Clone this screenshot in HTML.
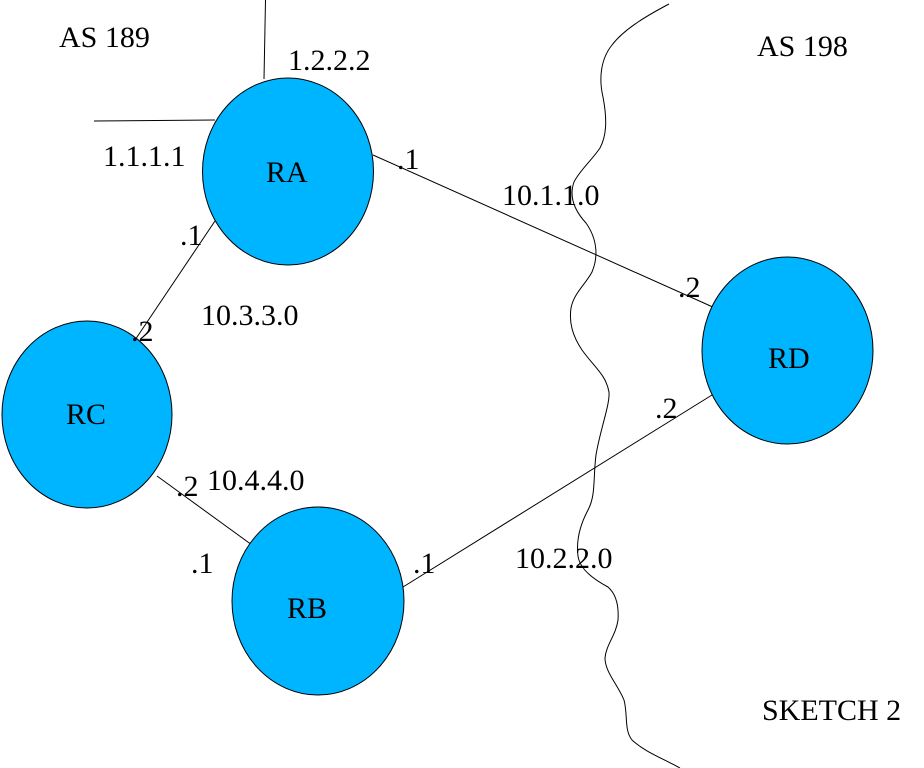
<!DOCTYPE html>
<html>
<head>
<meta charset="utf-8">
<style>
html,body{margin:0;padding:0;background:#fff;}
svg{display:block;}
text{font-family:"Liberation Serif","Times New Roman",serif;font-size:30px;fill:#000;}
</style>
</head>
<body>
<svg width="924" height="768" viewBox="0 0 924 768" xmlns="http://www.w3.org/2000/svg">
<!-- wavy boundary -->
<path d="M669,4 C650,14 625,28 612,45 C600,60 599,80 603,97 C607,118 607,135 600,148 C592,160 580,170 574,182 C569,196 574,210 586,223 C598,240 598,258 592,272 C585,285 574,293 571,308 C569,322 572,335 582,350 C595,368 606,375 609,392 C610,405 600,430 596,455 C593,478 596,495 588,510 C580,525 576,540 578,556 C580,570 595,580 608,587 C616,594 619,605 618,620 C616,635 606,645 605,658 C605,672 618,685 624,700 C628,715 624,730 632,740 C645,752 662,758 680,768" fill="none" stroke="#000" stroke-width="1"/>
<!-- stub lines on RA -->
<line x1="265.5" y1="0" x2="264" y2="79" stroke="#000" stroke-width="1"/>
<line x1="94" y1="121" x2="215" y2="120" stroke="#000" stroke-width="1"/>
<!-- links -->
<line x1="373" y1="155" x2="715" y2="308" stroke="#000" stroke-width="1"/>
<line x1="217" y1="218" x2="133" y2="343" stroke="#000" stroke-width="1"/>
<line x1="157" y1="476" x2="252" y2="545" stroke="#000" stroke-width="1"/>
<line x1="403" y1="587" x2="712" y2="395" stroke="#000" stroke-width="1"/>
<!-- routers -->
<ellipse cx="288" cy="171.5" rx="85.5" ry="93.5" fill="#00b5ff" stroke="#000" stroke-width="1"/>
<ellipse cx="87" cy="414.5" rx="85" ry="93.5" fill="#00b5ff" stroke="#000" stroke-width="1"/>
<ellipse cx="318" cy="601" rx="86" ry="94" fill="#00b5ff" stroke="#000" stroke-width="1"/>
<ellipse cx="787.5" cy="350.5" rx="85.5" ry="93.5" fill="#00b5ff" stroke="#000" stroke-width="1"/>
<!-- router labels -->
<text x="266" y="182">RA</text>
<text x="66" y="424">RC</text>
<text x="287" y="618">RB</text>
<text x="768" y="368">RD</text>
<!-- other labels -->
<text x="59" y="47">AS 189</text>
<text x="757" y="56">AS 198</text>
<text x="288" y="70">1.2.2.2</text>
<text x="103" y="166">1.1.1.1</text>
<text x="397" y="169">.1</text>
<text x="180" y="245">.1</text>
<text x="201" y="325">10.3.3.0</text>
<text x="131" y="341">.2</text>
<text x="502" y="205">10.1.1.0</text>
<text x="678" y="297">.2</text>
<text x="176" y="496">.2</text>
<text x="207" y="490">10.4.4.0</text>
<text x="191" y="573">.1</text>
<text x="413" y="573">.1</text>
<text x="655" y="418">.2</text>
<text x="515" y="568">10.2.2.0</text>
<text x="762" y="720">SKETCH 2</text>
</svg>
</body>
</html>
